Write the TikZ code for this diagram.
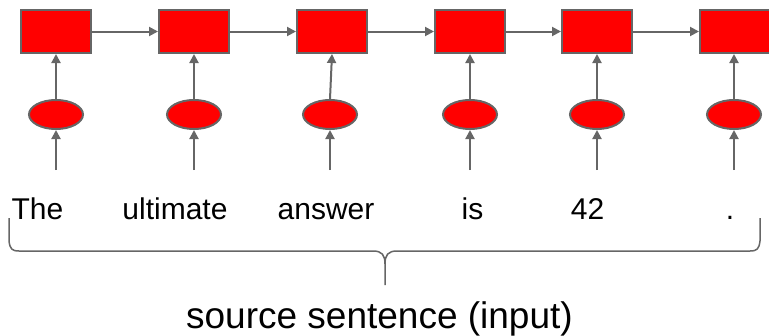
\documentclass[tikz,border=0pt]{standalone}
\usepackage{fontspec}
\setmainfont{Liberation Sans}
\usetikzlibrary{arrows.meta,shapes.geometric}
\definecolor{edgegray}{HTML}{666666}
\definecolor{cellred}{HTML}{FF0000}
\tikzset{
  cell/.style={draw=edgegray, line width=2pt, fill=cellred, rectangle,
    minimum width=70pt, minimum height=43pt, inner sep=0pt},
  embed/.style={draw=edgegray, line width=2pt, fill=cellred, ellipse,
    minimum width=54pt, minimum height=29pt, inner sep=0pt},
  flow/.style={draw=edgegray, line width=2pt,
    -{Triangle[length=9pt,width=9pt]}},
  word/.style={anchor=base, inner sep=0pt, font=\fontsize{30}{36}\selectfont},
  caption/.style={anchor=base, inner sep=0pt, font=\fontsize{37}{44}\selectfont},
  bracket/.style={draw=edgegray, line width=1.5pt}
}
\begin{document}
\begin{tikzpicture}[x=1pt, y=-1pt]
\useasboundingbox (0,0) rectangle (769,335);

% recurrent cells
\node[cell] (b1) at (56,31.5) {};
\node[cell] (b2) at (194,31.5) {};
\node[cell] (b3) at (332,31.5) {};
\node[cell] (b4) at (470,31.5) {};
\node[cell] (b5) at (597,31.5) {};
\node[cell] (b6) at (735,31.5) {};

% word embeddings
\node[embed] (e1) at (56,114.5) {};
\node[embed] (e2) at (194,114.5) {};
\node[embed] (e3) at (330,114.5) {};
\node[embed] (e4) at (470,114.5) {};
\node[embed] (e5) at (597,114.5) {};
\node[embed] (e6) at (734,114.5) {};

% inputs entering from below
\coordinate (i1) at (56,170);
\coordinate (i2) at (194,170);
\coordinate (i3) at (330,170);
\coordinate (i4) at (470,170);
\coordinate (i5) at (597,170);
\coordinate (i6) at (734,170);

\foreach \k in {1,...,6} {
  \draw[flow] (i\k) -- (e\k.south);
}
\foreach \k in {1,...,5} {
  \draw[flow] (e\k.north) -- (b\k.south);
}
\draw[flow] (e6.north) -- (b6.south -| e6.north);
\draw[flow] (b1.east) -- (b2.west);
\draw[flow] (b2.east) -- (b3.west);
\draw[flow] (b3.east) -- (b4.west);
\draw[flow] (b4.east) -- (b5.west);
\draw[flow] (b5.east) -- (b6.west);

% source words
\node[word] (w1) at (37.5,219) {The};
\node[word] (w2) at (175,219) {ultimate};
\node[word] (w3) at (326,219) {answer};
\node[word] (w4) at (472.5,219) {is};
\node[word] (w5) at (587.5,219) {42};
\node[word] (w6) at (730,219) {.};

% brace under the sentence
\coordinate (bl) at (9,218);
\coordinate (br) at (760,218);
\coordinate (tip) at (385,285);
\draw[bracket] (bl) -- (9,241) .. controls (10,249) and (12,251) .. (19,251)
  -- (373,251) .. controls (382,251) and (385,255) .. (385,264) -- (tip);
\draw[bracket] (br) -- (760,241) .. controls (759,249) and (757,251) .. (750,251)
  -- (397,251) .. controls (388,251) and (385,255) .. (385,264);

\node[caption] (cap) at (379.5,328) {source sentence (input)};
\end{tikzpicture}
\end{document}
